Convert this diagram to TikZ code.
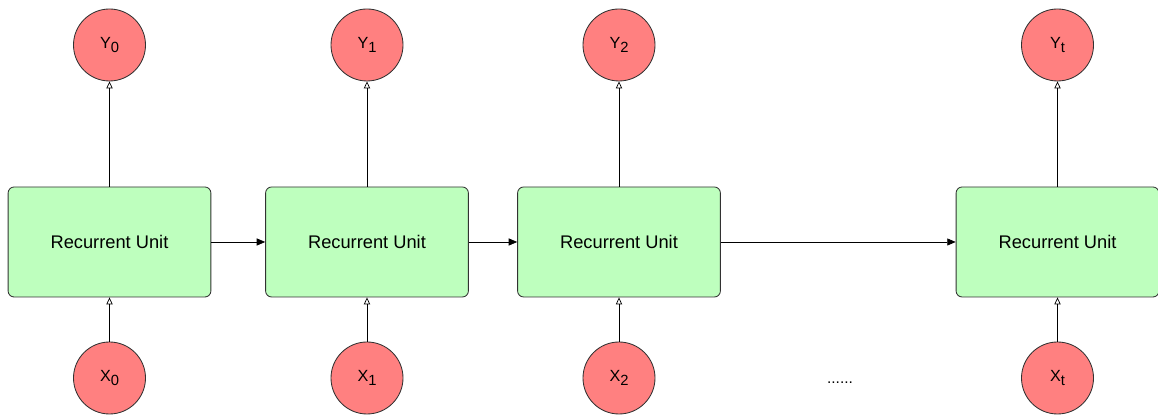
\documentclass[tikz,border=0pt]{standalone}
\usepackage{fontspec}
\setmainfont{Liberation Sans}
\usetikzlibrary{arrows.meta}

\definecolor{unitgreen}{RGB}{190,255,190}
\definecolor{iored}{RGB}{255,128,128}
\definecolor{edgegray}{RGB}{50,50,50}

\newcommand{\iolabel}[2]{#1\raisebox{-0.55ex}{\fontsize{10.5}{11}\selectfont #2}}

\begin{document}
\begin{tikzpicture}[font=\fontsize{13}{15}\selectfont,
    unit/.style={draw=edgegray, fill=unitgreen, rounded corners=0.15cm, line width=0.6pt,
        minimum width=5.07cm, minimum height=2.75cm},
    io/.style={draw=edgegray, fill=iored, circle, line width=0.6pt, minimum size=1.8cm,
        inner sep=0pt, font=\fontsize{11.5}{13}\selectfont},
    outarrow/.style={-{Triangle[open, length=5pt, width=4.5pt]}, line width=0.5pt},
    statearrow/.style={-{Triangle[length=6pt, width=5pt]}, line width=0.5pt}]
        \useasboundingbox (0,0) rectangle (28.95,10.375);
        % recurrent units
        \node[unit] (u0) at (2.7375,4.325) {Recurrent Unit};
        \node[unit] (u1) at (9.175,4.325) {Recurrent Unit};
        \node[unit] (u2) at (15.475,4.325) {Recurrent Unit};
        \node[unit] (ut) at (26.4375,4.325) {Recurrent Unit};
        % outputs
        \node[io] (y0) at (2.7375,9.25) {\iolabel{Y}{0}};
        \node[io] (y1) at (9.175,9.25) {\iolabel{Y}{1}};
        \node[io] (y2) at (15.475,9.25) {\iolabel{Y}{2}};
        \node[io] (yt) at (26.4375,9.25) {\iolabel{Y}{t}};
        % inputs
        \node[io] (x0) at (2.7375,0.925) {\iolabel{X}{0}};
        \node[io] (x1) at (9.175,0.925) {\iolabel{X}{1}};
        \node[io] (x2) at (15.475,0.925) {\iolabel{X}{2}};
        \node[io] (xt) at (26.4375,0.925) {\iolabel{X}{t}};
        \node[font=\fontsize{11}{13}\selectfont] (dots) at (21.0,0.8) {......};
        % connections
        \draw[outarrow] (u0) -- (y0);
        \draw[outarrow] (u1) -- (y1);
        \draw[outarrow] (u2) -- (y2);
        \draw[outarrow] (ut) -- (yt);
        \draw[outarrow] (x0) -- (u0);
        \draw[outarrow] (x1) -- (u1);
        \draw[outarrow] (x2) -- (u2);
        \draw[outarrow] (xt) -- (ut);
        \draw[statearrow] (u0) -- (u1);
        \draw[statearrow] (u1) -- (u2);
        \draw[statearrow] (u2) -- (ut);
    \end{tikzpicture}
\end{document}
